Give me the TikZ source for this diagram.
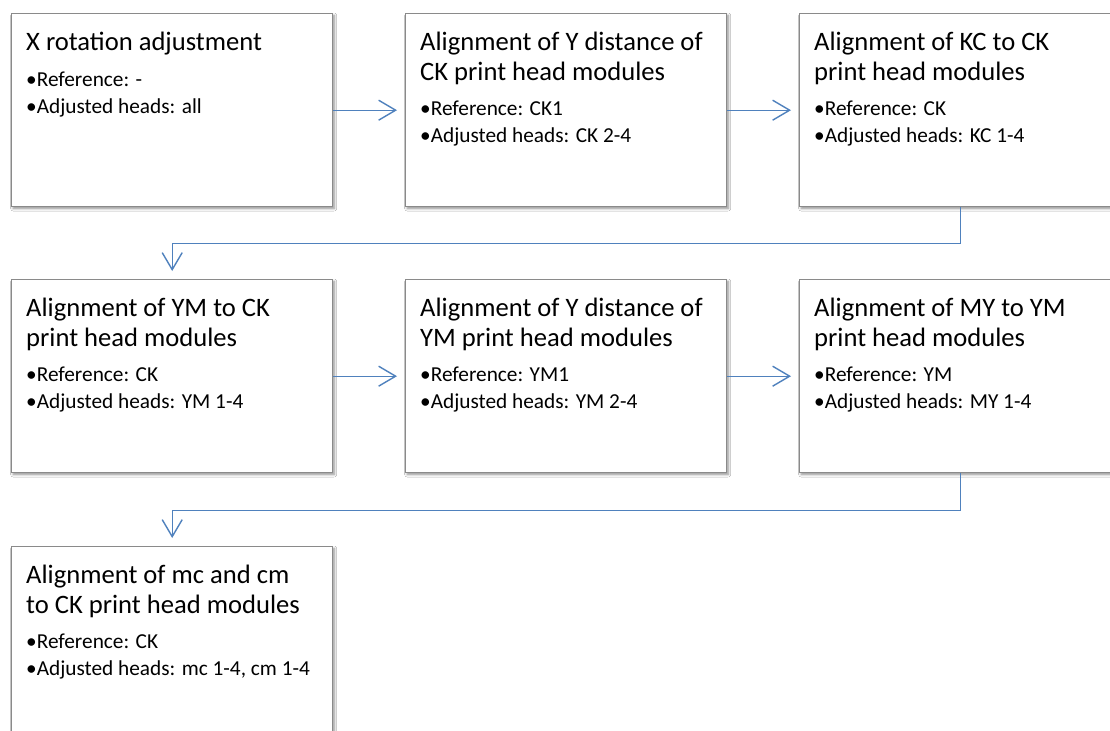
\documentclass[tikz,border=0pt]{standalone}
\usepackage{fontspec}
\setmainfont{Carlito}
\usetikzlibrary{arrows.meta,calc,shadows.blur}
\definecolor{arrowblue}{HTML}{4F81BD}
\definecolor{boxgray}{HTML}{8A8A8A}
\newcommand\stepcontent[3]{%
  \begin{minipage}[t]{300bp}\parindent=0pt\parskip=0pt
  \fontsize{26.6bp}{29.5bp}\selectfont #1\par
  \vspace{9bp}%
  \fontsize{21.3bp}{26.7bp}\selectfont \textbullet Reference: #2\par
  \textbullet Adjusted heads: #3\par
  \end{minipage}}
\tikzset{
  stepbox/.style={draw=boxgray, line width=1.4bp, fill=white, anchor=north west,
    minimum width=321bp, minimum height=193bp, inner sep=0pt,
    blur shadow={shadow xshift=1.5bp, shadow yshift=-1.8bp, shadow blur steps=6,
      shadow blur radius=2.5bp, shadow opacity=45}},
  steptext/.style={anchor=base west, inner sep=0pt, text=black},
  flow/.style={draw=arrowblue, line width=1.4bp,
    -{Straight Barb[length=17bp,width=20bp,line width=1.4bp]}, shorten >=8bp}
}
\begin{document}
\begin{tikzpicture}[x=1bp,y=-1bp]
\path[use as bounding box, clip] (0,0) rectangle (1110,731);
\fill[white] (0,0) rectangle (1110,731);
% boxes
\node[stepbox] (b1) at (11,13) {};
\node[stepbox] (b2) at (405,13) {};
\node[stepbox] (b3) at (799,13) {};
\node[stepbox] (b4) at (11,279) {};
\node[stepbox] (b5) at (405,279) {};
\node[stepbox] (b6) at (799,279) {};
\node[stepbox] (b7) at (11,546) {};
% texts
\node[steptext] (t1) at ($(b1.north west)+(15,37.7)$) {\stepcontent{X rotation adjustment}{-}{all}};
\node[steptext] (t2) at ($(b2.north west)+(15,37.7)$) {\stepcontent{Alignment of Y distance of\\CK print head modules}{CK1}{CK 2-4}};
\node[steptext] (t3) at ($(b3.north west)+(15,37.7)$) {\stepcontent{Alignment of KC to CK\\print head modules}{CK}{KC 1-4}};
\node[steptext] (t4) at ($(b4.north west)+(15,37.7)$) {\stepcontent{Alignment of YM to CK\\print head modules}{CK}{YM 1-4}};
\node[steptext] (t5) at ($(b5.north west)+(15,37.7)$) {\stepcontent{Alignment of Y distance of\\YM print head modules}{YM1}{YM 2-4}};
\node[steptext] (t6) at ($(b6.north west)+(15,37.7)$) {\stepcontent{Alignment of MY to YM\\print head modules}{YM}{MY 1-4}};
\node[steptext] (t7) at ($(b7.north west)+(15,37.7)$) {\stepcontent{Alignment of mc and cm\\to CK print head modules}{CK}{mc 1-4, cm 1-4}};
% connectors
\draw[flow] (b1.east) -- (b2.west);
\draw[flow] (b2.east) -- (b3.west);
\draw[flow] (b3.south) -- ++(0,36) -| (b4.north);
\draw[flow] (b4.east) -- (b5.west);
\draw[flow] (b5.east) -- (b6.west);
\draw[flow] (b6.south) -- ++(0,37) -| (b7.north);
\end{tikzpicture}
\end{document}
